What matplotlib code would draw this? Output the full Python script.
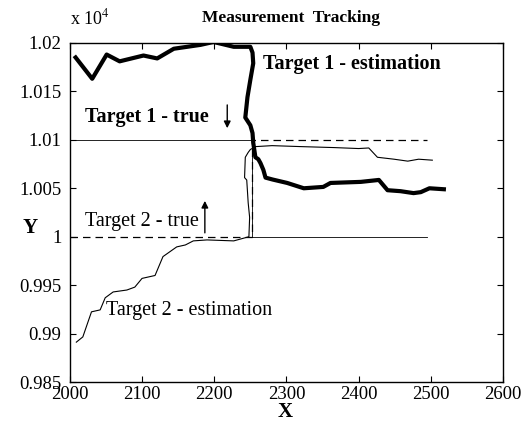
#!/usr/bin/env python3
"""Measurement tracking: estimated vs true target positions."""

import matplotlib
matplotlib.use("Agg")
import matplotlib.pyplot as plt

# Y values are in units of 10^4
t1_est_x = [2008, 2031, 2051, 2069, 2102, 2121, 2144, 2181, 2199, 2227, 2250,
            2253, 2254, 2250, 2246, 2243, 2250, 2253, 2254, 2257, 2261, 2264,
            2268, 2271, 2281, 2301, 2324, 2351, 2361, 2403, 2428, 2440, 2458,
            2476, 2486, 2498, 2518]
t1_est_y = [1.0185, 1.0163, 1.0188, 1.0181, 1.0187, 1.0184, 1.0194, 1.0198,
            1.0201, 1.0196, 1.0196, 1.0190, 1.0179, 1.0162, 1.0144, 1.0123,
            1.0115, 1.0107, 1.0097, 1.0082, 1.0080, 1.0076, 1.0069, 1.0061,
            1.0059, 1.00555, 1.0050, 1.00514, 1.00555, 1.00566, 1.00586,
            1.0048, 1.0047, 1.0045, 1.0046, 1.0050, 1.0049]

t2_est_x = [2009, 2018, 2030, 2042, 2049, 2060, 2079, 2090, 2100, 2118, 2129,
            2148, 2160, 2171, 2190, 2227, 2248, 2249, 2247, 2245, 2242, 2243,
            2247, 2250, 2257, 2280, 2320, 2366, 2400, 2414, 2426, 2449, 2468,
            2483, 2502]
t2_est_y = [0.98912, 0.98966, 0.99225, 0.99245, 0.9937, 0.9943, 0.9945, 0.9948,
            0.9957, 0.9960, 0.99795, 0.99895, 0.99915, 0.99957, 0.99967,
            0.99957, 1.0000, 1.0020, 1.0035, 1.00585, 1.0061, 1.0082, 1.0087,
            1.0090, 1.0093, 1.0094, 1.0093, 1.0092, 1.0091, 1.00916, 1.0082,
            1.0080, 1.0078, 1.0080, 1.0079]

true_x = [2000, 2252, 2252, 2494]
t1_true_y = [1.01, 1.01, 1.0, 1.0]
t2_true_y = [1.0, 1.0, 1.01, 1.01]

x_ticks = [2000, 2100, 2200, 2300, 2400, 2500, 2600]
y_ticks = [0.985, 0.99, 0.995, 1.0, 1.005, 1.01, 1.015, 1.02]

plt.rcParams["font.family"] = ["Liberation Serif", "DejaVu Serif"]
plt.rcParams["mathtext.fontset"] = "stix"

fig = plt.figure(figsize=(5.29, 4.25), dpi=100)
ax = fig.add_axes([0.132, 0.101, 0.819, 0.798])

ax.plot(true_x, t1_true_y, color="black", lw=0.6)
ax.plot(true_x, t2_true_y, color="black", lw=0.9, ls=(0, (6, 4)))
ax.plot(t2_est_x, t2_est_y, color="black", lw=0.8)
ax.plot(t1_est_x, t1_est_y, color="black", lw=3.0, solid_joinstyle="round")

ax.set_xlim(2000, 2600)
ax.set_ylim(0.985, 1.02)
ax.set_xticks(x_ticks)
ax.set_yticks(y_ticks)
ax.yaxis.set_major_formatter(plt.FuncFormatter(lambda v, _: f"{v:g}"))
ax.tick_params(direction="in", top=True, right=True, labelsize=13.5, length=4,
               width=0.8)
ax.tick_params(axis="x", pad=3)
ax.tick_params(axis="y", pad=6)
for s in ax.spines.values():
    s.set_linewidth(1.0)

# Annotations
ax.text(2268, 1.0178, "Target 1 - estimation", fontsize=14.5, fontweight="bold",
        va="center", ha="left")
ax.text(2021, 1.0124, "Target 1 - true", fontsize=14.5, fontweight="bold",
        va="center", ha="left")
ax.text(2021, 1.00155, "Target 2 - true", fontsize=14.5, va="center", ha="left")
ax.text(2050, 0.99235, "Target 2 - estimation", fontsize=14.5, va="center",
        ha="left")

ax.annotate("", xy=(2218, 1.0112), xytext=(2218, 1.0136),
            arrowprops=dict(arrowstyle="-|>", color="black", lw=1,
                            mutation_scale=10, shrinkA=0, shrinkB=0))
ax.annotate("", xy=(2187, 1.0037), xytext=(2187, 1.0004),
            arrowprops=dict(arrowstyle="-|>", color="black", lw=1,
                            mutation_scale=10, shrinkA=0, shrinkB=0))

fig.text(0.132, 1 - 18 / 425, "x 10$^{4}$", fontsize=13, ha="left", va="center")
fig.text(291 / 529, 1 - 18 / 425, "Measurement  Tracking", fontsize=12.5,
         fontweight="bold", ha="center", va="center")
fig.text(30 / 529, 1 - 228 / 425, "Y", fontsize=15, fontweight="bold",
         ha="center", va="center")
fig.text(285 / 529, 1 - 412 / 425, "X", fontsize=15, fontweight="bold",
         ha="center", va="center")

fig.savefig("out.png", dpi=100)
